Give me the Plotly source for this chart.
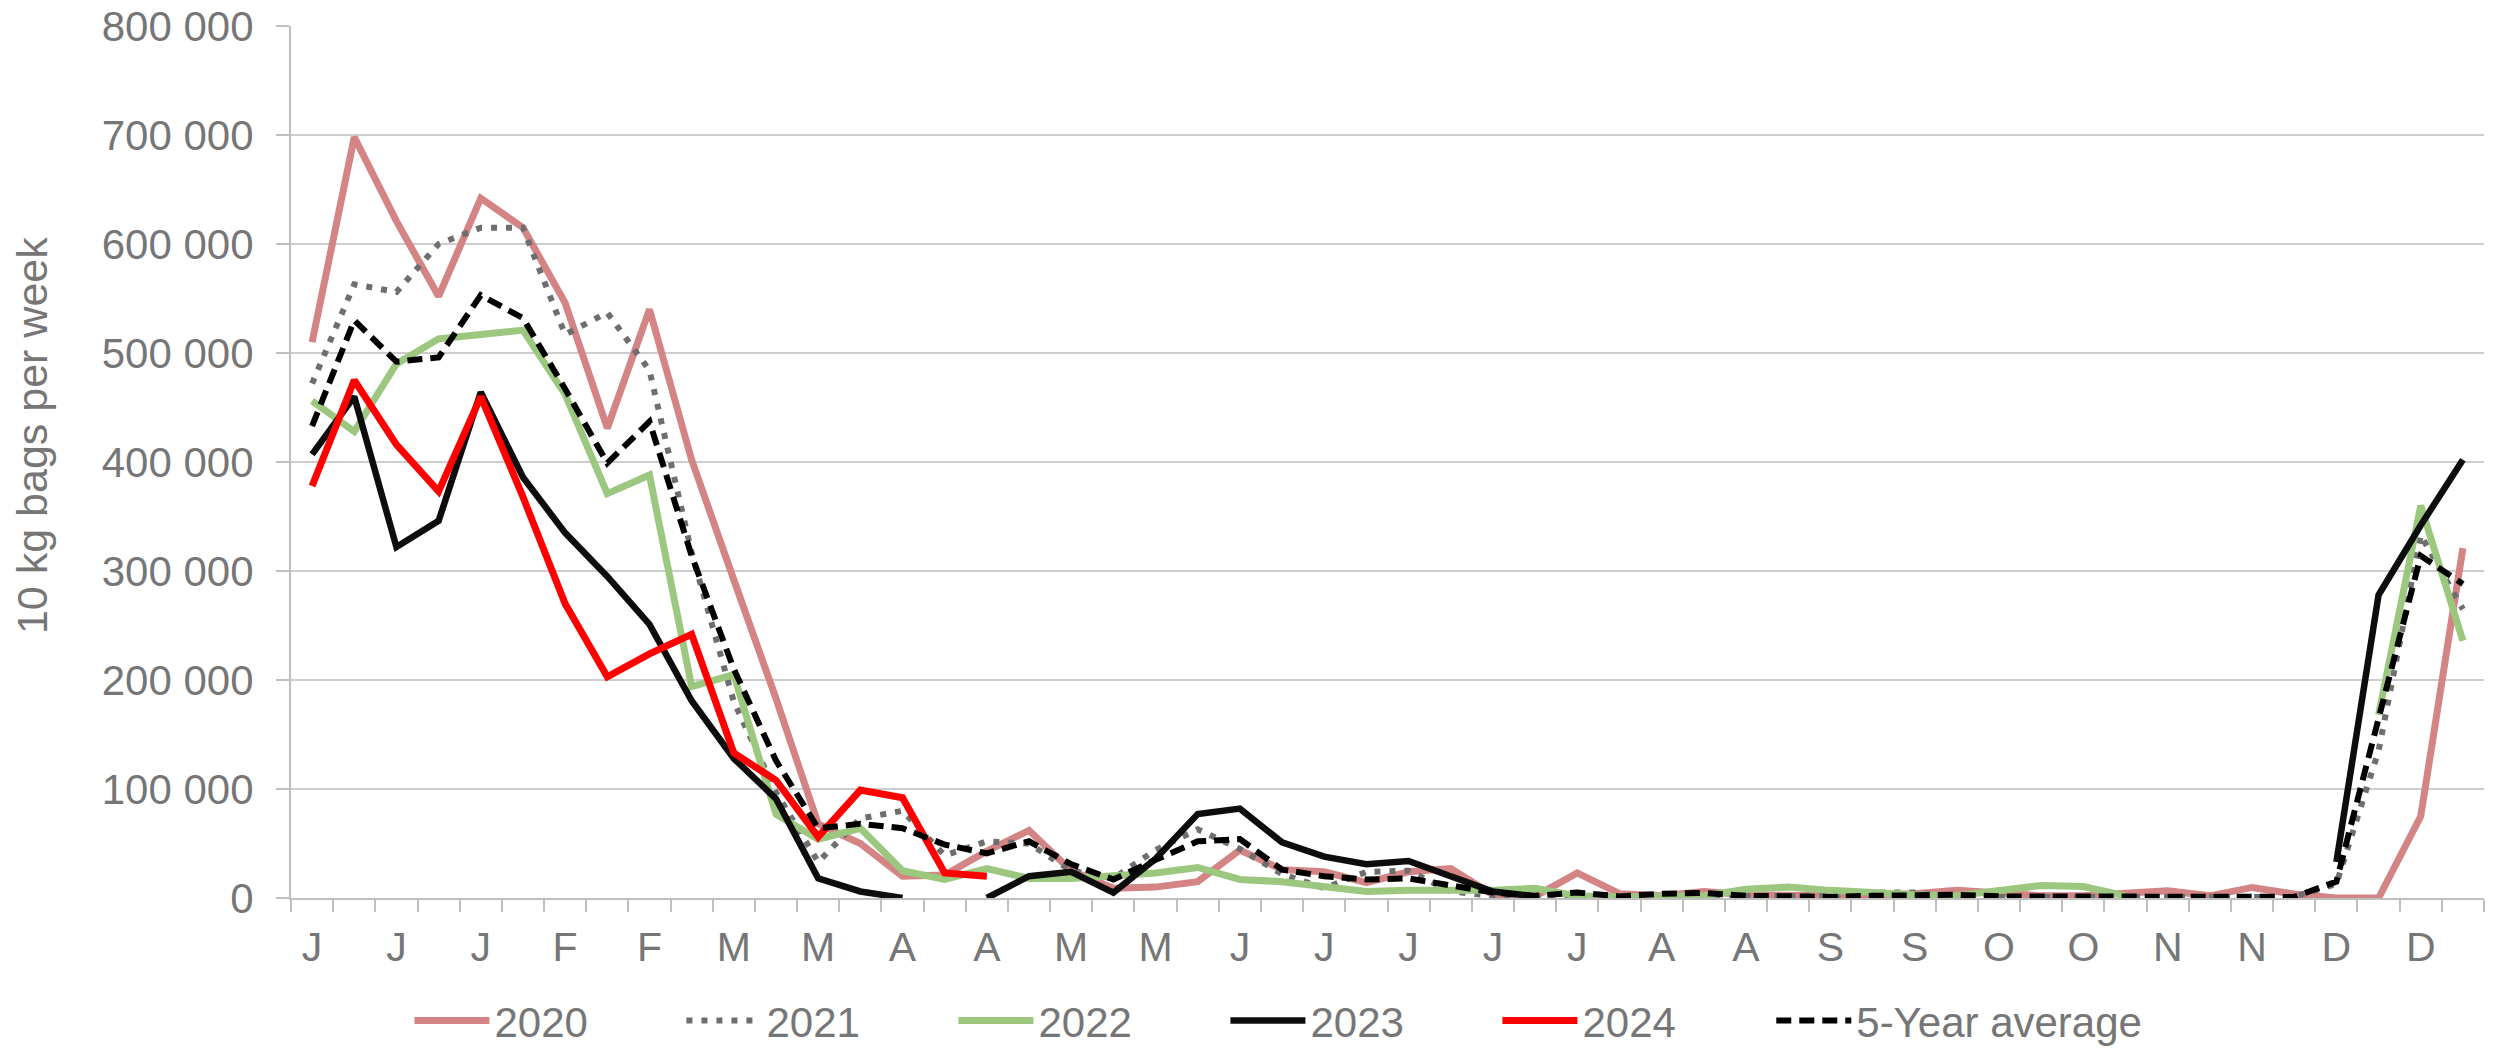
import plotly.graph_objects as go

WEEKS = list(range(52))
TICK_WEEKS = list(range(0, 52, 2))
TICK_LABELS = ["J", "J", "J", "F", "F", "M", "M", "A", "A", "M", "M", "J", "J",
               "J", "J", "J", "A", "A", "S", "S", "O", "O", "N", "N", "D", "D"]
Y_TICKS = [0, 100000, 200000, 300000, 400000, 500000, 600000, 700000, 800000]

# weekly values, thousands of 10 kg bags (None = no data)
Y2020 = [510, 698, 621, 552, 642, 615, 546, 431, 540, 402, 292, 183, 68, 50, 20, 21, 43, 62, 25, 9,
         10, 15, 44, 26, 24, 14, 24, 27, 3, 1.5, 23, 4, 2, 6, 3, 2, 2, 3, 4, 7,
         4, 2, 2, 4, 6.7, 2, 9.7, 3.6, 0, 0, 75, 321]
Y2021 = [472, 563, 556, 600, 615, 615, 517, 537, 484, 317, 180, 97, 33, 73, 80, 39, 52, 50, 25, 18,
         44, 63, 45, 22, 9, 24, 25, 6, 2, 1, 1, 1, 1, 2, 1, 1, 2, 5, 5, 1,
         1, 1, 1, 1, 1, 1, 1, 1, 13, 135, 333, 265]
Y2022 = [456, 428, 490, 513, 517, 521, 462, 371, 388, 194, 205, 77, 54, 64, 25, 17, 27, 18, 18, 20,
         23, 28, 17, 15, 11, 6, 7, 7, 7, 9, 2, 1, 1.5, 2, 8, 10, 7, 4.5, 3, 2,
         6, 11.5, 10.5, 2, None, None, None, None, None, 168, 360, 236]
Y2023 = [407, 460, 322, 346, 464, 386, 335, 295, 251, 181, 128, 91, 18, 6, 0, None, 0, 20, 24, 5,
         36, 77, 82, 51, 38, 31, 34, 20, 6, 1.5, None, None, None, None, None, None, None, None, None, None,
         None, None, None, None, None, None, None, None, 33, 278, 342, 402]
Y2024 = [378, 475, 416, 373, 460, 368, 270, 203, 224, 242, 133, 108, 56, 99, 92, 23, 20]
Y_AVG = [433, 530, 492, 496, 553, 532, 467, 399, 437, 314, 210, 126, 64, 68, 64, 49, 41, 52, 31, 17,
         35, 52, 54, 26, 20, 17, 18, 12, 5, 2, 5, 1.5, 4, 4.6, 2, 1.5, 1, 2, 2, 3,
         1.5, 1.5, 2, 1.5, 2, 1.5, 1.5, 1, 15, 164, 314, 288]


def bags(values):
    return [v * 1000 if v is not None else None for v in values]


GREY = "#767676"
AXIS = "#BFBFBF"
FONT = "Liberation Sans, Arial, sans-serif"

fig = go.Figure()
series = [
    ("2020", Y2020, dict(color="#D48484", width=7), "legend"),
    ("2021", Y2021, dict(color="#6E6E6E", width=6, dash="6px,9px"), "legend"),
    ("2022", Y2022, dict(color="#9CC77F", width=7), "legend"),
    ("2023", Y2023, dict(color="#0D0D0D", width=6.5), "legend"),
    ("2024", Y2024, dict(color="#FF0000", width=7), "legend"),
    ("5-Year average", Y_AVG, dict(color="#000000", width=6, dash="15px,8px"), "legend2"),
]
for name, vals, line, leg in series:
    fig.add_trace(go.Scatter(x=WEEKS[:len(vals)], y=bags(vals), mode="lines", name=name,
                             line=line, connectgaps=False, legend=leg))

legend_common = dict(orientation="h", xanchor="left", yref="container", y=0.026, yanchor="middle",
                     font=dict(size=42, color=GREY, family=FONT), itemwidth=75,
                     bgcolor="rgba(0,0,0,0)", traceorder="normal")

# y axis title placed as a rotated annotation (sits a bit above the axis middle in the reference)
fig.add_annotation(text="10 kg bags per week", textangle=-90, showarrow=False,
                   xref="paper", yref="paper", x=-0.118, y=0.53, xanchor="center", yanchor="middle",
                   font=dict(size=43, color=GREY, family=FONT))

fig.update_layout(
    width=2494,
    height=1048,
    margin=dict(l=291, r=10, t=26, b=150),
    paper_bgcolor="white",
    plot_bgcolor="white",
    separators=". ",
    font=dict(family=FONT, color=GREY, size=40),
    showlegend=True,
    legend=dict(x=0.054, entrywidth=182, entrywidthmode="pixels", **legend_common),
    legend2=dict(x=0.675, **legend_common),
    xaxis=dict(
        range=[-0.5, 51.5], automargin=False,
        tickmode="array", tickvals=TICK_WEEKS, ticktext=TICK_LABELS,
        ticks="outside", ticklen=12, tickcolor="rgba(0,0,0,0)",
        minor=dict(tickmode="array", tickvals=[w - 0.5 for w in WEEKS] + [51.5],
                   ticks="outside", ticklen=12, tickcolor=AXIS, tickwidth=2),
        showgrid=False, zeroline=False,
        showline=True, linecolor=AXIS, linewidth=2,
        tickfont=dict(size=41, color=GREY),
    ),
    yaxis=dict(
        range=[0, 800000], automargin=False,
        tickmode="array", tickvals=Y_TICKS, tickformat=",d",
        ticks="outside", ticklen=13, tickcolor=AXIS, tickwidth=2, ticklabelstandoff=14,
        showgrid=True, gridcolor="#CDCDCD", gridwidth=2,
        zeroline=False, showline=True, linecolor=AXIS, linewidth=2,
        tickfont=dict(size=42, color=GREY),
    ),
)

fig.write_html("out.html", config={"displayModeBar": False},
               post_script="document.body.style.margin='0';")
